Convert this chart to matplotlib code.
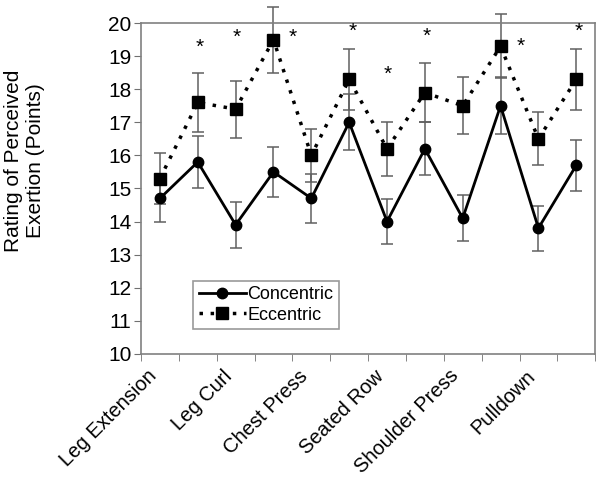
import numpy as np
import matplotlib
matplotlib.use("Agg")
import matplotlib.pyplot as plt
from matplotlib.lines import Line2D

plt.rcParams['font.family'] = ['Liberation Sans', 'DejaVu Sans']

exercises = ["Leg Extension", "Leg Curl", "Chest Press", "Seated Row", "Shoulder Press", "Pulldown"]
concentric = [14.7, 15.8, 13.9, 15.5, 14.7, 17.0, 14.0, 16.2, 14.1, 17.5, 13.8, 15.7]
concentric_err = [0.72, 0.78, 0.7, 0.75, 0.73, 0.85, 0.68, 0.8, 0.7, 0.86, 0.68, 0.78]
eccentric = [15.3, 17.6, 17.4, 19.5, 16.0, 18.3, 16.2, 17.9, 17.5, 19.3, 16.5, 18.3]
eccentric_err = [0.77, 0.9, 0.86, 1.0, 0.79, 0.93, 0.82, 0.9, 0.86, 0.97, 0.8, 0.92]
# significance stars: (x position, y value)
star_x = [1.06, 2.03, 3.51, 5.09, 6.02, 7.06, 9.53, 11.07]
star_y = [19.26, 19.56, 19.56, 19.74, 18.46, 19.6, 19.29, 19.74]

x = np.arange(len(concentric))

fig = plt.figure(figsize=(6.0, 4.82), dpi=100)
ax = fig.add_axes([0.235, 0.266, 0.757, 0.686])

errcol = '#606060'
for vals, errs in [(concentric, concentric_err), (eccentric, eccentric_err)]:
    eb = ax.errorbar(x, vals, yerr=errs, fmt='none', ecolor=errcol, elinewidth=1.1,
                     capsize=4, capthick=1.1, zorder=2)
    for art in eb.get_children():
        art.set_clip_on(False)

ax.plot(x, concentric, color='black', lw=2, marker='o', ms=7.5, zorder=3, clip_on=False)
ax.plot(x, eccentric, color='black', lw=2.5, linestyle=(0, (1.0, 2.2)), marker='s', ms=8,
        zorder=3, clip_on=False)

for sx, sy in zip(star_x, star_y):
    ax.text(sx, sy, '*', fontsize=15, ha='center', va='center')

ax.set_xlim(-0.5, len(x) - 0.5)
ax.set_ylim(10, 20)
ax.set_yticks(np.arange(10, 21, 1))
ax.tick_params(axis='y', labelsize=15, length=5, color='#707070', pad=2)

ax.set_xticks(np.arange(0, len(x), 2))
ax.set_xticklabels(exercises, rotation=45, ha='right', va='top', fontsize=14.5)
ax.set_xticks(np.arange(-0.5, len(x), 1), minor=True)
ax.tick_params(axis='x', which='major', length=0, pad=9)
ax.tick_params(axis='x', which='minor', length=5, color='#707070')

for sp in ax.spines.values():
    sp.set_color('#808080')
    sp.set_linewidth(1.2)

ax.set_ylabel("Rating of Perceived\nExertion (Points)", fontsize=15, ha='center')
ax.yaxis.set_label_coords(-0.211, 0.585)

handles = [Line2D([], [], color='black', lw=2, marker='o', ms=7.5),
           Line2D([], [], color='black', lw=2.5, linestyle=(0, (1.0, 2.2)), marker='s', ms=8)]
leg = ax.legend(handles, ["Concentric", "Eccentric"], loc='lower left',
                bbox_to_anchor=(0.115, 0.075), fontsize=13, frameon=True, fancybox=False,
                handlelength=2.6, handletextpad=0.1, borderpad=0.3, labelspacing=0.2,
                borderaxespad=0)
leg.get_frame().set_edgecolor('#808080')
leg.get_frame().set_linewidth(1.2)

fig.savefig("out.png", dpi=100)
